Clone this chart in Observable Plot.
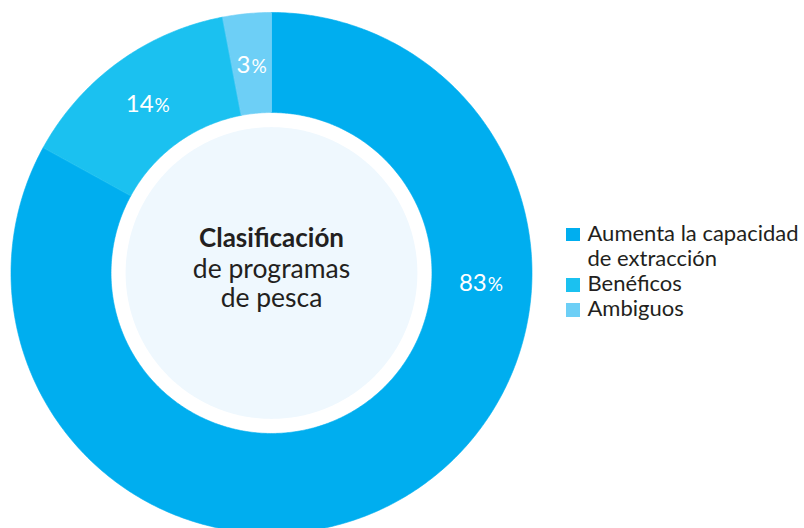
<!DOCTYPE html>
<html>
<head>
<meta charset="utf-8">
<script src="https://cdn.jsdelivr.net/npm/d3@7"></script>
<script src="https://cdn.jsdelivr.net/npm/@observablehq/plot@0.6"></script>
<style>
  html, body { margin: 0; padding: 0; background: #fff; }
  #wrap { position: relative; width: 804px; height: 528px; overflow: hidden; font-family: Lato, "Open Sans", sans-serif; }
  #legend { position: absolute; left: 566px; top: 219.5px; color: #231F20; font-size: 22px; line-height: 25.3px; }
  .item { display: flex; align-items: flex-start; }
  .sw { width: 14px; height: 13.5px; margin-top: 8px; margin-right: 7.5px; flex: none; }
  .lab { white-space: pre; }
</style>
</head>
<body>
<div id="wrap"></div>
<script>
// ---- data ----
const categories = ["Aumenta la capacidad de extracción", "Benéficos", "Ambiguos"];
const legendLabels = ["Aumenta la capacidad\nde extracción", "Benéficos", "Ambiguos"];
const shares = [83, 14, 3];
const colors = ["#00AEEF", "#1BC1F0", "#6DCFF6"];
const centerTitle = "Clasificación";
const centerLines = ["de programas", "de pesca"];

// ---- geometry (unit circle, outer radius 1) ----
const innerR = 0.616, discR = 0.560, labelR = 0.806, pxPerUnit = 260.5;
const total = d3.sum(shares);
let acc = 0;
const slices = shares.map((v, i) => {
  const a0 = acc / total * 2 * Math.PI;
  acc += v;
  const a1 = acc / total * 2 * Math.PI;
  return {key: categories[i], value: v, a0, a1};
});
const pt = (r, a) => ({x: r * Math.sin(a), y: -r * Math.cos(a)});
const ring = [];
for (const s of slices) {
  const n = Math.max(8, Math.ceil((s.a1 - s.a0) / 0.01));
  for (let k = 0; k <= n; k++) ring.push({key: s.key, ...pt(1, s.a0 + (s.a1 - s.a0) * k / n)});
  for (let k = n; k >= 0; k--) ring.push({key: s.key, ...pt(innerR, s.a0 + (s.a1 - s.a0) * k / n)});
}
const disc = d3.range(0, 361).map(d => pt(discR, d * Math.PI / 180));
const biggest = d3.maxIndex(shares);
// label = number + smaller "%", centred as a whole on its point
const labels = slices.map((s, i) => {
  const a = i === biggest ? Math.PI / 2 + 0.045 : (s.a0 + s.a1) / 2;
  const p = pt(labelR, a);
  const num = String(s.value);
  const shift = (num.length * 13.5 - 16) / 2 / pxPerUnit; // split point between number and %
  return {x: p.x + shift, y: p.y, num, pct: "%"};
});
const center = [{x: 0, y: 0}];

const plot = Plot.plot({
  width: 804,
  height: 528,
  margin: 0,
  style: {background: "transparent", fontFamily: "Lato, 'Open Sans', sans-serif", overflow: "hidden"},
  x: {domain: [-1, 1], range: [10.5, 531.5], axis: null},
  y: {domain: [-1, 1], range: [12, 533], axis: null},
  color: {domain: categories, range: colors},
  marks: [
    Plot.line(ring, {x: "x", y: "y", z: "key", fill: "key", stroke: "key", strokeWidth: 0.6, curve: "linear-closed"}),
    Plot.line(disc, {x: "x", y: "y", fill: "#EFF8FE", stroke: "none", curve: "linear-closed"}),
    Plot.text(labels, {x: "x", y: "y", text: "num", fill: "white", fontSize: 24, textAnchor: "end", lineAnchor: "bottom", dy: 9}),
    Plot.text(labels, {x: "x", y: "y", text: "pct", fill: "white", fontSize: 19, textAnchor: "start", lineAnchor: "bottom", dx: 1, dy: 9}),
    Plot.text(center, {x: "x", y: "y", text: () => centerTitle, fill: "#231F20", fontSize: 26, fontWeight: "bold", lineAnchor: "bottom", dy: -26}),
    Plot.text(center, {x: "x", y: "y", text: () => centerLines[0], fill: "#231F20", fontSize: 26.5, lineAnchor: "bottom", dy: 4.5}),
    Plot.text(center, {x: "x", y: "y", text: () => centerLines[1], fill: "#231F20", fontSize: 26.5, lineAnchor: "bottom", dy: 33.5})
  ]
});

const wrap = document.getElementById("wrap");
wrap.appendChild(plot);

// legend from the same color scale
const color = plot.scale("color");
const legend = document.createElement("div");
legend.id = "legend";
legendLabels.forEach((lab, i) => {
  const item = document.createElement("div");
  item.className = "item";
  const sw = document.createElement("div");
  sw.className = "sw";
  sw.style.background = color.apply(categories[i]);
  const t = document.createElement("div");
  t.className = "lab";
  t.textContent = lab;
  item.appendChild(sw);
  item.appendChild(t);
  legend.appendChild(item);
});
wrap.appendChild(legend);
</script>
</body>
</html>
